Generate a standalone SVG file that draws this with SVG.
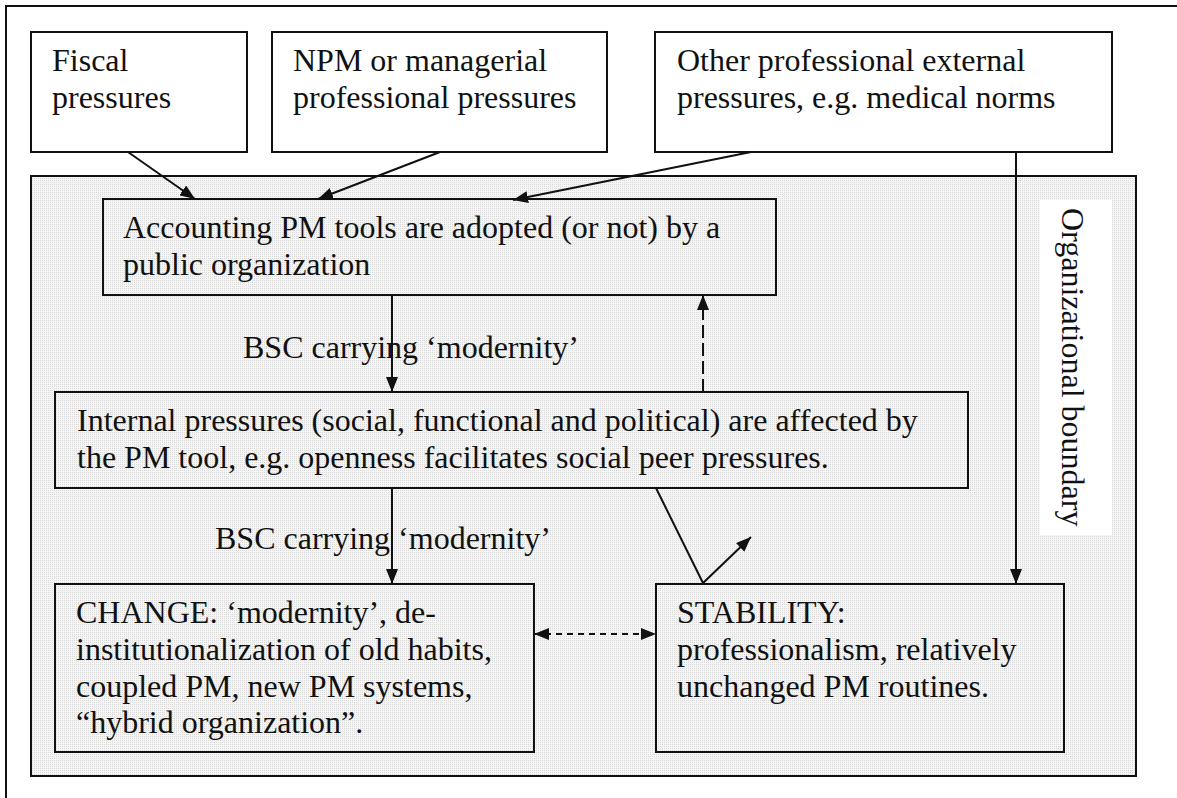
<svg xmlns="http://www.w3.org/2000/svg" width="1177" height="798" viewBox="0 0 1177 798">
  <style>
    .t { font-family: "Liberation Serif", "Times New Roman", serif; font-size: 32px; fill: #111; }
    .box { fill: none; stroke: #111; stroke-width: 2; }
    .wbox { fill: #fff; stroke: #111; stroke-width: 2; }
    .con { fill: none; stroke: #111; stroke-width: 2; }
    .dash { stroke-dasharray: 13 5; }
    .sdash { stroke-dasharray: 6 5; }
  </style>
  <defs>
    <pattern id="stipple" width="2" height="2" patternUnits="userSpaceOnUse">
      <rect width="2" height="2" fill="#f5f5f5"/>
      <rect width="1" height="1" fill="#dadada"/>
    </pattern>
    <marker id="arr" markerUnits="userSpaceOnUse" viewBox="0 0 15 12" markerWidth="15" markerHeight="12" refX="15" refY="6" orient="auto-start-reverse">
      <path d="M0,0 L15,6 L0,12 z" fill="#111" stroke="none"/>
    </marker>
  </defs>

  <rect width="1177" height="798" fill="#fff"/>
  <!-- outer frame -->
  <rect x="6" y="6" width="1200" height="820" fill="none" stroke="#111" stroke-width="2"/>

  <!-- organizational boundary -->
  <g id="boundary">
    <rect x="31" y="176" width="1105" height="600" fill="url(#stipple)" stroke="#111" stroke-width="2"/>
    <rect x="1040" y="200" width="72" height="335" fill="#fff"/>
    <text class="t" font-size="30" transform="translate(1062,208) rotate(90)">Organizational boundary</text>
  </g>

  <g id="fiscal">
    <rect class="wbox" x="31" y="32" width="216" height="120"/>
    <text class="t" x="52" y="71">Fiscal</text>
    <text class="t" x="52" y="107.8">pressures</text>
  </g>

  <g id="npm">
    <rect class="wbox" x="272" y="32" width="335" height="120"/>
    <text class="t" x="293" y="71">NPM or managerial</text>
    <text class="t" x="293" y="107.8">professional pressures</text>
  </g>

  <g id="other">
    <rect class="wbox" x="655" y="32" width="457" height="120"/>
    <text class="t" x="677" y="71">Other professional external</text>
    <text class="t" x="677" y="107.8">pressures, e.g. medical norms</text>
  </g>

  <g id="accounting">
    <rect class="box" x="103" y="199" width="673" height="96"/>
    <text class="t" x="123" y="238">Accounting PM tools are adopted (or not) by a</text>
    <text class="t" x="123" y="275">public organization</text>
  </g>

  <g id="internal">
    <rect class="box" x="55" y="392" width="913" height="96"/>
    <text class="t" x="77" y="431">Internal pressures (social, functional and political) are affected by</text>
    <text class="t" x="77" y="468">the PM tool, e.g. openness facilitates social peer pressures.</text>
  </g>

  <g id="change">
    <rect class="box" x="55" y="584" width="479" height="168"/>
    <text class="t" x="76" y="623">CHANGE: ‘modernity’, de-</text>
    <text class="t" x="76" y="660">institutionalization of old habits,</text>
    <text class="t" x="76" y="697">coupled PM, new PM systems,</text>
    <text class="t" x="76" y="733">“hybrid organization”.</text>
  </g>

  <g id="stability">
    <rect class="box" x="656" y="584" width="408" height="168"/>
    <text class="t" x="677" y="623">STABILITY:</text>
    <text class="t" x="677" y="660">professionalism, relatively</text>
    <text class="t" x="677" y="697">unchanged PM routines.</text>
  </g>

  <g id="connectors">
    <line class="con" x1="128" y1="152" x2="195" y2="199" marker-end="url(#arr)"/>
    <line class="con" x1="440" y1="152" x2="318" y2="199" marker-end="url(#arr)"/>
    <line class="con" x1="751" y1="152" x2="513" y2="200" marker-end="url(#arr)"/>
    <line class="con" x1="1016" y1="152" x2="1016" y2="584" marker-end="url(#arr)"/>
    <line class="con" x1="392" y1="295" x2="392" y2="392" marker-end="url(#arr)"/>
    <line class="con dash" x1="703" y1="392" x2="703" y2="295" marker-end="url(#arr)"/>
    <line class="con" x1="392" y1="488" x2="392" y2="584" marker-end="url(#arr)"/>
    <line class="con sdash" x1="534" y1="634" x2="656" y2="634" marker-start="url(#arr)" marker-end="url(#arr)"/>
    <path class="con" d="M656,488 L703,583 L751,537" marker-end="url(#arr)"/>
    <text class="t" x="243" y="358">BSC carrying ‘modernity’</text>
    <text class="t" x="215" y="549">BSC carrying ‘modernity’</text>
  </g>
</svg>
